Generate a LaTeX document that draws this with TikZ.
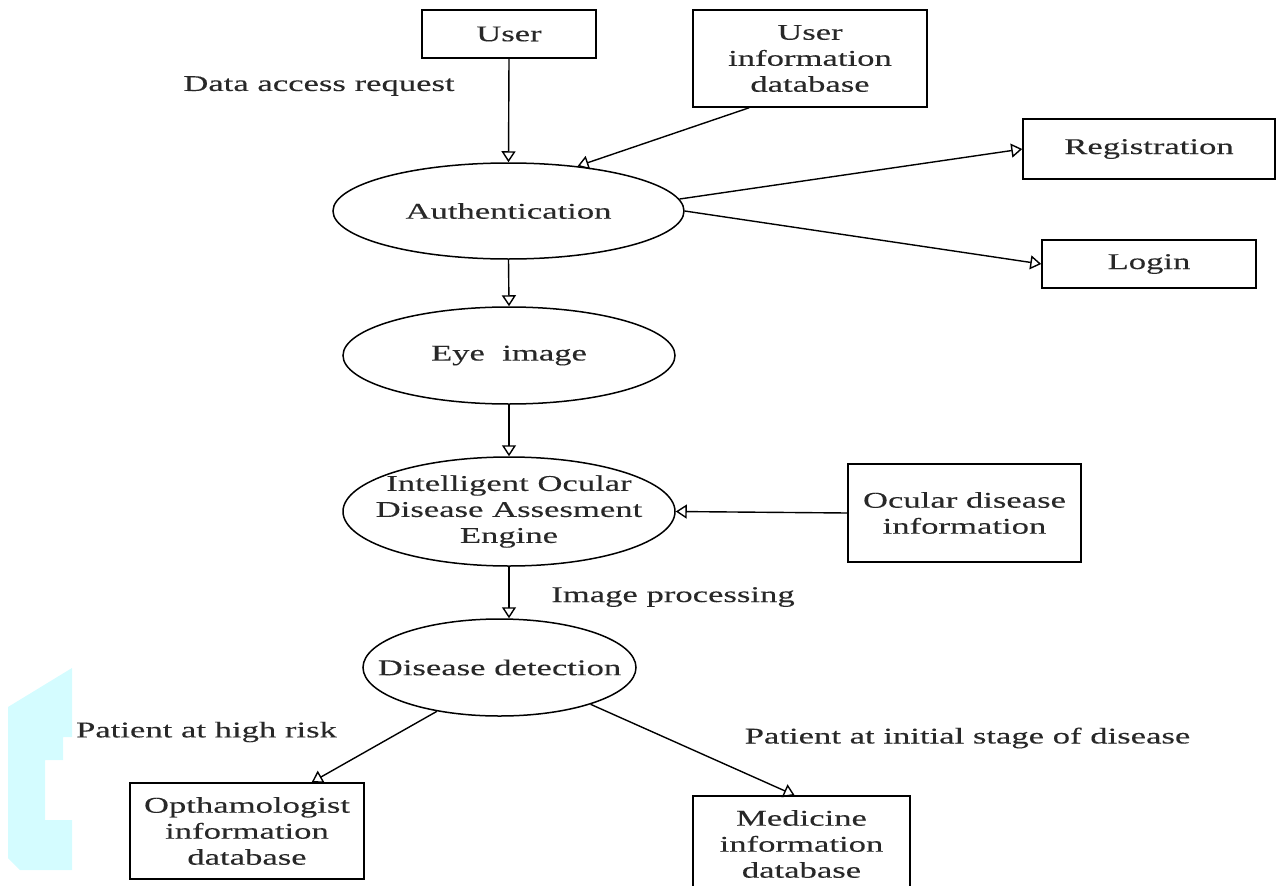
\documentclass[tikz,border=0pt]{standalone}
\usepackage{fontspec}
\setmainfont{Liberation Serif}[FakeStretch=1.54, FakeBold=0.2]
\usetikzlibrary{arrows.meta,shapes.geometric}
\definecolor{stainblue}{RGB}{212,252,255}
\definecolor{inkgray}{RGB}{40,40,40}
\newcommand*\txtsize{\fontsize{22.5}{26}\selectfont}
\newcommand*\edgewd{1.5pt}
\tikzset{
    box/.style    = {draw, rectangle, line width=\edgewd, align=center,
                    inner sep=0pt, font=\txtsize, text=inkgray},
    proc/.style   = {draw, ellipse, line width=\edgewd, align=center,
                    inner xsep=-30pt, inner ysep=0pt, font=\txtsize, text=inkgray},
    flow/.style   = {line width=1.4pt, -{Triangle[open, length=11pt, width=14pt]}},
    note/.style   = {inner sep=0pt, font=\txtsize, text=inkgray},
    stain/.style  = {fill=stainblue, draw=none},
  }
\begin{document}
\begin{tikzpicture}[x=1pt, y=-1pt]
        \useasboundingbox (0,0) rectangle (1280,886);

        % light blue patch on the left border
        \fill[stain] (8,707) -- (72,668) -- (72,737) -- (63,737) -- (63,760)
            -- (45,760) -- (45,820) -- (72,820) -- (72,870) -- (20,870)
            -- (8,858) -- cycle;

        % boxes
        \node (user)     [box, minimum width=174pt, minimum height=48pt] at (509,34)     {User};
        \node (userdb)   [box, minimum width=234pt, minimum height=97pt] at (810,58.5)   {User\\information\\database};
        \node (reg)      [box, minimum width=252pt, minimum height=60pt] at (1149,149)   {Registration};
        \node (login)    [box, minimum width=214pt, minimum height=48pt] at (1149,264)   {Login};
        \node (ocular)   [box, minimum width=233pt, minimum height=98pt] at (964.5,513)  {Ocular disease\\information};
        \node (opth)     [box, minimum width=234pt, minimum height=96pt] at (247,831)    {Opthamologist\\information\\database};
        \node (medicine) [box, minimum width=217pt, minimum height=96pt] at (801.5,844)  {Medicine\\information\\database};

        % processes
        \node (auth)   [proc, minimum width=351pt, minimum height=96pt]  at (508.5,211)  {Authentication};
        \node (eye)    [proc, minimum width=332pt, minimum height=97pt]  at (509,355.5)  {Eye\ \ image};
        \node (engine) [proc, minimum width=332pt, minimum height=109pt] at (509,511.5)  {Intelligent Ocular\\Disease Assesment\\Engine};
        \node (detect) [proc, minimum width=273pt, minimum height=97pt]  at (499.5,667.5) {Disease detection};

        % flow labels
        \node (lblrequest) [note] at (319,86)    {Data access request};
        \node (lblimage)   [note] at (673,597)   {Image processing};
        \node (lblhigh)    [note] at (206.5,732) {Patient at high risk};
        \node (lblinit)    [note] at (967.5,738) {Patient at initial stage of disease};

        % main vertical chain
        \foreach \a/\b in {user/auth, auth/eye, eye/engine} {
            \draw[flow] (\a.south) -- (\b.north);
        }
        \draw[flow] (engine.south) -- (engine.south |- detect.north);

        % side connections
        \draw[flow] (userdb.219) -- (auth.33);
        \draw[flow] (auth.4) -- (reg.west);
        \draw[flow] (auth.east) -- (login.west);
        \draw[flow] (ocular.west) -- (engine.east);
        \draw[flow] (detect.215) -- (opth.37);
        \draw[flow] (detect.338) -- (medicine.98);
    \end{tikzpicture}
\end{document}
